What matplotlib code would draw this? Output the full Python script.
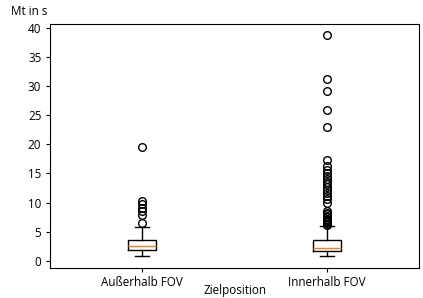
import matplotlib
matplotlib.use("Agg")
import matplotlib.pyplot as plt

plt.rcParams['font.family'] = ['Open Sans', 'DejaVu Sans']
plt.rcParams['font.size'] = 8.4
plt.rcParams['xtick.major.size'] = 3
plt.rcParams['ytick.major.size'] = 3
plt.rcParams['xtick.major.pad'] = 3
plt.rcParams['ytick.major.pad'] = 3.3

categories = ["Außerhalb FOV", "Innerhalb FOV"]
q1 = [1.9, 1.65]
med = [2.6, 2.3]
q3 = [3.6, 3.6]
whislo = [0.9, 0.85]
whishi = [5.9, 6.0]
fliers_out = [19.6, 10.3, 9.7, 9.1, 8.5, 7.9, 6.5]
fliers_in = [38.7, 31.1, 29.1, 25.9, 23.0, 17.3, 16.3, 15.6, 15.1, 14.6, 14.1,
             13.6, 13.2, 12.7, 12.2, 11.6, 11.2, 10.7, 10.0, 8.6, 8.3, 8.0,
             7.7, 7.5, 7.2, 7.0, 6.8, 6.6, 6.4, 6.2]
fliers = [fliers_out, fliers_in]
xlabel = "Zielposition"
ylabel = "Mt in s"
yticks = [0, 5, 10, 15, 20, 25, 30, 35, 40]

stats = []
for i, c in enumerate(categories):
    stats.append(dict(label=c, q1=q1[i], med=med[i], q3=q3[i],
                      whislo=whislo[i], whishi=whishi[i], fliers=fliers[i]))

fig = plt.figure(figsize=(4.23, 2.98), dpi=100)
ax = fig.add_axes([50/423, 1-268/298, 369/423, 244/298])
ax.bxp(stats, showfliers=True, flierprops=dict(markersize=5.5))
ax.set_yticks(yticks)
ax.set_ylim(-1.2, 40.6)
ax.set_xlabel(xlabel, labelpad=-4)
fig.text(11/423, 1-11.5/298, ylabel, ha='left', va='center', fontsize=8.4)
fig.savefig("out.png", dpi=100)
